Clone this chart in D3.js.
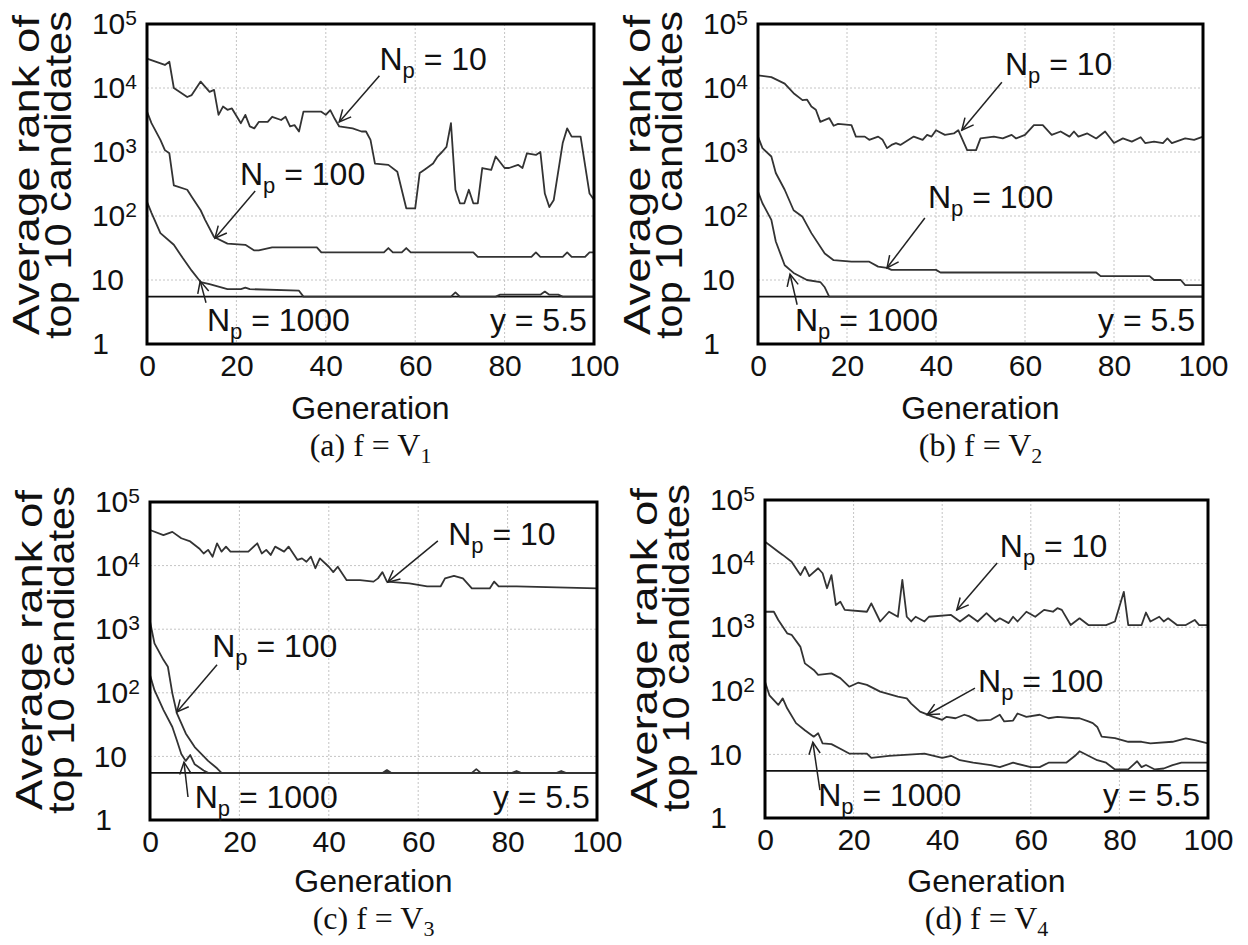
<!DOCTYPE html>
<html><head><meta charset="utf-8">
<script src="https://cdn.jsdelivr.net/npm/d3@7"></script>
<style>body{margin:0;background:#fff} svg{display:block}</style>
</head><body>
<svg id="chart" width="1248" height="945"></svg>
<script>
// ---------------- DATA ----------------
const xTicks = [0, 20, 40, 60, 80, 100];
const yTicks = [1, 10, 100, 1000, 10000, 100000];
const yTickBase = ["1", "10", "10", "10", "10", "10"];
const yTickExp = ["", "", "2", "3", "4", "5"];
const xGridValues = [20, 40, 60, 80];
const yGridValues = [10, 100, 1000, 10000];
const refLineValue = 5.5;

// (a) f = V1
const genA10 = [0,4,5,6,9,10,12,14,15,16,17,18,19,21,22,23,24,25,27,28,30,31,32,33,34,35,39,40,41,42,43,46,48,49,50,51,54,56,58,60,61,62,64,65,66,67,68,69,70,71,72,73,74,75,77,78,80,81,83,84,85,87,88,89,90,91,93,94,95,97,99,100];
const valA10 = [28800,22900,25700,10000,7240,7760,12600,8710,9330,3800,5130,4570,4790,2820,3800,2510,2340,2950,2950,3550,3160,3550,2510,2630,2090,4270,4270,3800,4500,3300,2510,2340,2090,2090,1550,660,630,490,132,132,468,525,660,850,1000,1200,2820,257,158,158,257,158,158,562,525,850,562,562,630,562,955,900,1000,224,138,178,1380,2340,1740,1740,224,180];
const genA100 = [0,1,3,4,5,6,9,10,12,13,15,18,22,24,25,28,38,39,53,54,55,57,58,59,73,74,86,87,88,93,94,95,98,99,100];
const valA100 = [4270,2820,1550,1070,955,302,257,200,123,87,47,37,35.5,29,29,32.4,32.4,27,27,31.6,27,27,31.6,27,27,23,23,27,23,23,27,23,23,27,27];
const genA1000 = [0,1,3,6,8,10,12,14,18,21,22,23,34,35,68,69,70,78,79,88,89,90,92,93,100];
const valA1000 = [166,112,54,35.5,22,14,9.3,8.6,7.2,7.2,7.6,7.2,6.8,5.5,5.5,6.4,5.5,5.5,5.9,5.9,6.6,5.9,5.9,5.5,5.5];

// (b) f = V2
const genB10 = [0,3,6,8,10,11,12,13,14,16,17,18,21,22,24,25,27,28,29,30,31,32,35,37,38,39,40,42,44,45,47,49,50,53,55,57,58,60,62,64,66,68,70,71,72,74,76,78,80,82,84,86,87,89,91,92,93,96,98,100];
const valB10 = [15800,14800,11700,8300,6460,6600,5130,4570,2950,3390,2570,2750,2630,1740,1740,1550,1740,1550,1150,1290,1380,1290,1740,1550,1850,1740,2190,1850,1950,2190,1070,1070,1630,1740,1630,1850,1630,1850,2630,2630,1850,2090,1740,2090,1740,1950,1630,2090,1380,1630,1450,1700,1380,1450,1380,1630,1380,1630,1550,1740];
const genB100 = [0,1,3,4,6,8,10,12,15,17,21,25,27,29,30,40,41,76,77,88,89,95,96,100];
const valB100 = [1740,1150,850,470,257,123,97,54,26,20.4,19.3,19.3,16.2,15.5,14.4,14.4,13.1,13.1,11.5,11.5,10,10,8.3,8.3];
const genB1000 = [0,1,3,4,6,8,11,14,15,16,100];
const valB1000 = [240,158,87,40,17,12.9,10,9.3,7.7,5.5,5.5];

// (c) f = V3
const genC10 = [0,3,5,7,9,11,12,13,14,15,16,17,18,22,24,25,26,27,28,30,31,33,34,35,36,37,38,40,41,42,44,47,50,51,52,53,58,62,65,66,68,70,72,76,77,78,82,100];
const valC10 = [36300,30200,33900,26900,24000,18600,15500,17700,13800,22400,16600,19900,16600,16600,22400,15500,17700,14700,19900,16600,19900,12300,13000,11500,13800,9100,13000,9600,7900,9600,5900,5900,5600,6300,7900,5600,5250,4700,4700,6300,6900,6300,4370,4370,5600,4700,4700,4370];
const genC100 = [0,1,3,4,5,6,8,10,13,15,16,100];
const valC100 = [1320,600,330,257,98,48,23,14,8.5,6.5,5.5,5.5];
const genC1000 = [0,1,3,5,6,7,8,9,10,12,13,52,53,54,72,73,74,81,82,83,91,92,93,100];
const valC1000 = [190,110,54,29,18,10.9,8.5,10.5,7.5,6,5.5,5.5,6.1,5.5,5.5,6.3,5.5,5.5,5.9,5.5,5.5,5.9,5.5,5.5];

// (d) f = V4
const genD10 = [0,1,3,4,6,8,9,10,12,13,14,15,16,17,18,23,24,26,28,30,31,32,33,34,36,37,42,44,46,48,50,52,53,55,56,57,59,61,63,65,66,67,69,71,73,77,79,81,82,85,86,87,89,90,91,93,95,97,98,100];
const valD10 = [22000,19600,15400,13700,10700,6600,8900,6350,8450,7050,4100,6600,2230,2520,1870,1750,2370,1230,1750,1460,5530,1460,1230,1460,1230,1460,1560,1230,1560,1230,1660,1230,1380,1160,1460,1230,1750,1460,1870,1750,1990,1870,1080,1380,1080,1080,1230,3600,1080,1080,1700,1230,1460,1230,1380,1080,1080,1300,1080,1080];
const genD100 = [0,2,3,5,6,8,9,11,12,15,17,19,21,23,26,30,32,33,35,38,40,41,43,45,46,48,51,53,54,56,57,59,62,64,66,70,71,73,74,75,76,79,82,85,87,92,95,97,100];
const valD100 = [1750,1750,1300,800,760,490,270,213,178,188,158,116,134,124,97,81,76,63,47,39,35,39,37,42,40,34,35,42,33,34,44,39,42,37,39,37,37,33,31,27,19,18,15.8,15.8,14.9,15.8,17.9,16.8,14.9];
const genD1000 = [0,1,3,4,5,7,9,11,12,13,15,17,19,23,24,28,36,40,42,44,47,51,53,56,60,62,64,68,70,71,73,75,77,79,82,84,85,86,88,90,92,94,100];
const valD1000 = [138,85,60,76,53,31,24,19,21.5,14.9,14.5,12.3,10.3,10.3,8.8,9.5,10.3,8.8,9.5,8.1,7.4,6.8,6.3,7.4,6.3,6.3,7.4,7.4,9.5,11.2,9.5,8.1,7.4,5.8,5.8,7.8,6.3,6.8,5.8,6.0,6.8,7.4,7.4];

const seriesLabels = ["10", "100", "1000"];
const captionLetters = ["a", "b", "c", "d"];
const captionSubs = ["1", "2", "3", "4"];

// ---------------- LAYOUT ----------------
const SANS = "'Liberation Sans', Arial, Helvetica, sans-serif";
const SERIF = "'Liberation Serif', 'Times New Roman', serif";

const panels = [
  { left:147, right:594, top:24, bottom:344, labelShift:-9, genOff:75, capOff:112,
    series:[[genA10,valA10],[genA100,valA100],[genA1000,valA1000]],
    ann:[ {text:[52,19000], tail:[52,15500], tip:[43,2950]},
          {text:[20.8,300], tail:[24.2,245], tip:[15.2,45]},
          {text:[13.4,1.6], tail:[13.2,4.4], tip:[11.9,9.6]} ],
    refText:[98.4,1.6] },
  { left:758, right:1203, top:24, bottom:344, labelShift:-9, genOff:75, capOff:112,
    series:[[genB10,valB10],[genB100,valB100],[genB1000,valB1000]],
    ann:[ {text:[55.5,15800], tail:[54.8,12300], tip:[45.8,2190]},
          {text:[38.2,133], tail:[37.5,93], tip:[29,15.5]},
          {text:[8.3,1.6], tail:[8.8,4.1], tip:[7.2,12.3]} ],
    refText:[98.2,1.6] },
  { left:150, right:597, top:502, bottom:820, labelShift:-11, genOff:72, capOff:109,
    series:[[genC10,valC10],[genC100,valC100],[genC1000,valC1000]],
    ann:[ {text:[66.7,20900], tail:[64.4,24500], tip:[53.2,5500]},
          {text:[13.9,363], tail:[15,275], tip:[6,50]},
          {text:[10,1.55], tail:[8.5,2.3], tip:[7.6,8.1]} ],
    refText:[98.4,1.55] },
  { left:765, right:1208, top:500, bottom:818, labelShift:-11, genOff:74, capOff:111,
    series:[[genD10,valD10],[genD100,valD100],[genD1000,valD1000]],
    ann:[ {text:[53,12600], tail:[52.4,10200], tip:[43.3,1860]},
          {text:[48.1,95], tail:[47.4,110], tip:[36.6,42]},
          {text:[12,1.55], tail:[12.4,2.75], tip:[10.8,15.5]} ],
    refText:[98.2,1.55] }
];

const svg = d3.select("#chart");
svg.append("rect").attr("width",1248).attr("height",945).attr("fill","#fff");

function npLabel(sel, value) {
  sel.append("tspan").text("N");
  sel.append("tspan").attr("font-size", 22).attr("dy", 8).text("p");
  sel.append("tspan").attr("dy", -8).text(" = " + value);
}

panels.forEach((p, i) => {
  const x = d3.scaleLinear().domain([0, 100]).range([p.left, p.right]);
  const y = d3.scaleLog().domain([1, 1e5]).range([p.bottom, p.top]);
  const g = svg.append("g");

  // grid
  g.selectAll(".vg").data(xGridValues).enter().append("line")
    .attr("x1", d => x(d)).attr("x2", d => x(d))
    .attr("y1", p.top).attr("y2", p.bottom)
    .attr("stroke", "#c4c4c4").attr("stroke-width", 1).attr("stroke-dasharray", "2,2");
  g.selectAll(".hg").data(yGridValues).enter().append("line")
    .attr("x1", p.left).attr("x2", p.right)
    .attr("y1", d => y(d)).attr("y2", d => y(d))
    .attr("stroke", "#c4c4c4").attr("stroke-width", 1).attr("stroke-dasharray", "2,2");

  // reference line y = 5.5
  g.append("line").attr("x1", p.left).attr("x2", p.right)
    .attr("y1", y(refLineValue)).attr("y2", y(refLineValue))
    .attr("stroke", "#111").attr("stroke-width", 1.6);

  // series
  const line = d3.line().x(d => x(d[0])).y(d => y(d[1]));
  p.series.forEach(([gens, vals]) => {
    const pts = gens.map((gv, k) => [gv, vals[k]]);
    g.append("path").datum(pts).attr("d", line)
      .attr("fill", "none").attr("stroke", "#333").attr("stroke-width", 1.8)
      .attr("stroke-linejoin", "round");
  });

  // frame
  g.append("rect").attr("x", p.left).attr("y", p.top)
    .attr("width", p.right - p.left).attr("height", p.bottom - p.top)
    .attr("fill", "none").attr("stroke", "#000").attr("stroke-width", 3);

  // x axis labels
  const xa = g.append("g").attr("transform", `translate(0,${p.bottom})`)
    .call(d3.axisBottom(x).tickValues(xTicks).tickSize(0).tickPadding(11).tickFormat(d3.format("d")));
  xa.select(".domain").remove();
  xa.selectAll("text").attr("font-family", SANS).attr("font-size", 30).attr("fill", "#111");

  // y axis labels
  const ya = g.append("g").attr("transform", `translate(${p.left},0)`)
    .call(d3.axisLeft(y).tickValues(yTicks).tickSize(0).tickPadding(23).tickFormat(() => ""));
  ya.select(".domain").remove();
  ya.selectAll("text").each(function(d) {
    const k = yTicks.indexOf(d);
    const t = d3.select(this).attr("font-family", SANS).attr("font-size", 30).attr("fill", "#111");
    t.text(null);
    t.append("tspan").text(yTickBase[k]);
    if (yTickExp[k]) {
      t.attr("x", -10);
      t.append("tspan").attr("font-size", 21).attr("dy", "-0.42em").text(yTickExp[k]);
    } else if (yTickBase[k] === "1") {
      t.attr("x", -38);
    }
  });

  // axis titles
  const cy = (p.top + p.bottom) / 2 + p.labelShift;
  [["Average rank of", p.left - 108, 320], ["top 10 candidates", p.left - 76, 328]].forEach(([txt, bx, len]) => {
    g.append("text").attr("transform", `translate(${bx},${cy}) rotate(-90)`)
      .attr("text-anchor", "middle").attr("font-family", SANS).attr("font-size", 37)
      .attr("textLength", len).attr("lengthAdjust", "spacingAndGlyphs")
      .attr("fill", "#111").text(txt);
  });
  g.append("text").attr("x", (p.left + p.right) / 2).attr("y", p.bottom + p.genOff)
    .attr("text-anchor", "middle").attr("font-family", SANS).attr("font-size", 32)
    .attr("fill", "#111").text("Generation");

  // caption
  const cap = g.append("text").attr("x", (p.left + p.right) / 2).attr("y", p.bottom + p.capOff)
    .attr("text-anchor", "middle").attr("font-family", SERIF).attr("font-size", 32).attr("fill", "#111");
  cap.append("tspan").text(`(${captionLetters[i]}) f = V`);
  cap.append("tspan").attr("font-size", 22).attr("dy", 7).text(captionSubs[i]);

  // annotations
  p.ann.forEach((a, k) => {
    const t = g.append("text").attr("x", x(a.text[0])).attr("y", y(a.text[1]))
      .attr("font-family", SANS).attr("font-size", 32).attr("fill", "#111");
    npLabel(t, seriesLabels[k]);
    const x1 = x(a.tail[0]), y1 = y(a.tail[1]), x2 = x(a.tip[0]), y2 = y(a.tip[1]);
    g.append("line").attr("x1", x1).attr("y1", y1).attr("x2", x2).attr("y2", y2)
      .attr("stroke", "#222").attr("stroke-width", 1.5);
    const ang = Math.atan2(y2 - y1, x2 - x1), L = 13, spread = 0.45;
    const pA = [x2 - L * Math.cos(ang - spread), y2 - L * Math.sin(ang - spread)];
    const pB = [x2 - L * Math.cos(ang + spread), y2 - L * Math.sin(ang + spread)];
    g.append("path").attr("d", `M${pA[0]},${pA[1]}L${x2},${y2}L${pB[0]},${pB[1]}`)
      .attr("fill", "none").attr("stroke", "#222").attr("stroke-width", 1.5);
  });
  g.append("text").attr("x", x(p.refText[0])).attr("y", y(p.refText[1]))
    .attr("text-anchor", "end").attr("font-family", SANS).attr("font-size", 32)
    .attr("fill", "#111").text("y = " + refLineValue);
});
</script>
</body></html>
